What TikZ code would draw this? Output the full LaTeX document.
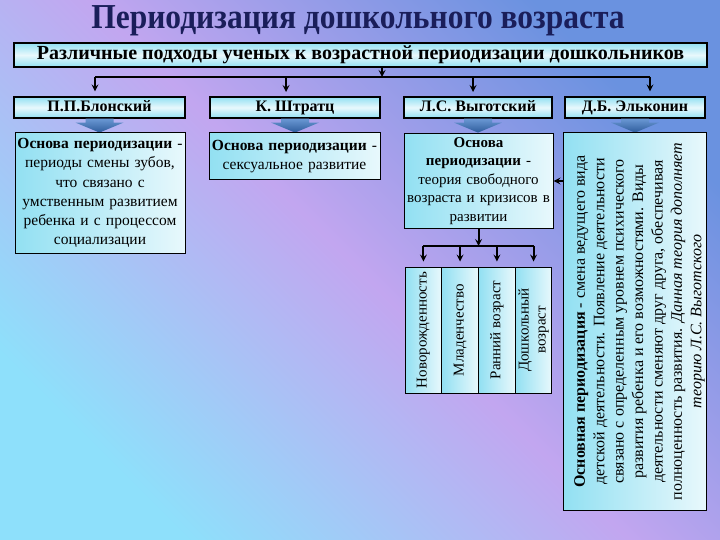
\documentclass[tikz,border=0pt]{standalone}
\usepackage{fontspec}
\setmainfont{Liberation Serif}
\newfontfamily\titlefont[FakeStretch=0.9]{Liberation Serif}
\usetikzlibrary{positioning}

\definecolor{bgcyan}{HTML}{8EE0FB}
\definecolor{bglav}{HTML}{C2A6F0}
\definecolor{bgblue}{HTML}{6A92E0}
\definecolor{boxcyan}{HTML}{92E0F2}
\definecolor{boxlight}{HTML}{E8F8FC}
\definecolor{titleblue}{HTML}{1A1E5A}
\definecolor{arrtop}{HTML}{6A98D4}
\definecolor{arrbot}{HTML}{2E5C9C}

\tikzset{
  title/.style={font=\titlefont\bfseries\fontsize{35}{36}\selectfont, text=titleblue, inner sep=0pt},
  hdrbox/.style={draw=black, line width=1.2pt, top color=boxcyan, bottom color=boxcyan, middle color=boxlight, inner sep=0pt, text height=11.5pt, text depth=3.5pt, font=\bfseries\fontsize{16}{18}\selectfont},
  basis/.style={draw=black, line width=1pt, left color=boxcyan, right color=boxlight, inner sep=1pt, align=center, font=\fontsize{15.5}{19.2}\selectfont},
  cell/.style={draw=black, line width=1pt, left color=boxcyan, right color=boxlight, inner sep=0pt, minimum width=36.75, minimum height=126, font=\fontsize{15}{17}\selectfont},
  conn/.style={draw=black, line width=2pt},
  >=stealth
}

\begin{document}
\begin{tikzpicture}[x=1pt,y=-1pt]
\useasboundingbox (0,0) rectangle (720,540);
\shade[top color=bgblue, bottom color=bgcyan, middle color=bglav, shading angle=-45] (0,0) rectangle (720,540);

% title
\node[title] (ttl) at (358,21) {Периодизация дошкольного возраста};

% approaches
\node[hdrbox, minimum width=693, minimum height=24, text height=14pt, text depth=4pt, font=\bfseries\fontsize{20}{21}\selectfont] (appr) at (360.5,55) {Различные подходы ученых к возрастной периодизации дошкольников};

\node[hdrbox, minimum width=171, minimum height=21] (blon) at (99.5,107.5) {П.П.Блонский};
\node[hdrbox, minimum width=170, minimum height=21] (strt) at (295,107.5) {К. Штратц};
\node[hdrbox, minimum width=148, minimum height=21] (vygo) at (478,107.5) {Л.С. Выготский};
\node[hdrbox, minimum width=140, minimum height=21] (elko) at (635,107.5) {Д.Б. Эльконин};

\coordinate (hub) at (382,77);
\coordinate (hl) at (95,77);
\coordinate (hr) at (650,77);
\draw[conn,->] (appr.south -| hub) -- (hub);
\draw[conn] (hl) -- (hr);
\draw[conn,->,shorten >=5pt] (hl) -- (hl |- blon.north);
\draw[conn,->,shorten >=5pt] (286,77) -- (286,97);
\draw[conn,->,shorten >=5pt] (473,77) -- (473,97);
\draw[conn,->,shorten >=5pt] (hr) -- (hr |- elko.north);

% blue block arrows
\foreach \n in {blon,strt,vygo,elko}
  \shade[top color=arrtop, bottom color=arrbot] ([xshift=-14pt]\n.south) -- ++(28,0) -- ++(0,4) -- ++(10,0) -- ++(-24,10) -- ++(-24,-10) -- ++(10,0) -- cycle;

% bases of the periodizations
\node[basis, minimum width=170, minimum height=120, text width=168] (bbas) at (100,193) {\textbf{Основа периодизации} -\\периоды смены зубов,\\что связано с\\умственным развитием\\ребенка и с процессом\\социализации};
\node[basis, minimum width=171, minimum height=47, text width=169] (sbas) at (294.5,156.5) {\textbf{Основа периодизации} -\\сексуальное развитие};
\node[basis, minimum width=147, minimum height=95, text width=147, font=\fontsize{15}{18.6}\selectfont] (vbas) at (478.5,181) {\textbf{Основа}\\\textbf{периодизации} -\\теория свободного\\возраста и кризисов в\\развитии};
\node[basis, minimum width=143, minimum height=377] (ebas) at (634.5,321.5) {\hspace*{10pt}\rotatebox{90}{\parbox{372pt}{\centering\fontsize{16}{19.4}\selectfont
  \textbf{Основная периодизация} - смена ведущего вида\\
  детской деятельности. Появление деятельности\\
  связано с определенным уровнем психического\\
  развития ребенка и его возможностями. Виды\\
  деятельности сменяют друг друга, обеспечивая\\
  полноценность развития. \textit{Данная теория дополняет}\\
  \textit{теорию Л.С. Выготского}}}};
\draw[conn,->] (ebas.west |- vbas.east) -- (vbas.east);

% ages after Vygotsky
\node[cell] (newb) at (423.4,330) {\rotatebox{90}{Новорожденность}};
\node[cell] (infa) at (460.1,330) {\rotatebox{90}{Младенчество}};
\node[cell] (earl) at (496.9,330) {\rotatebox{90}{Ранний возраст}};
\node[cell] (pres) at (533.6,330) {\rotatebox{90}{\begin{tabular}{@{}c@{}}Дошкольный\\возраст\end{tabular}}};

\coordinate (vhub) at (vbas.south |- 0,246);
\draw[conn,->] (vbas.south) -- (vhub);
\draw[conn] (newb.north |- vhub) -- (pres.north |- vhub);
\draw[conn,->,shorten >=5pt] (newb.north |- vhub) -- (newb.north);
\draw[conn,->,shorten >=5pt] (infa.north |- vhub) -- (infa.north);
\draw[conn,->,shorten >=5pt] (earl.north |- vhub) -- (earl.north);
\draw[conn,->,shorten >=5pt] (pres.north |- vhub) -- (pres.north);
\end{tikzpicture}
\end{document}
